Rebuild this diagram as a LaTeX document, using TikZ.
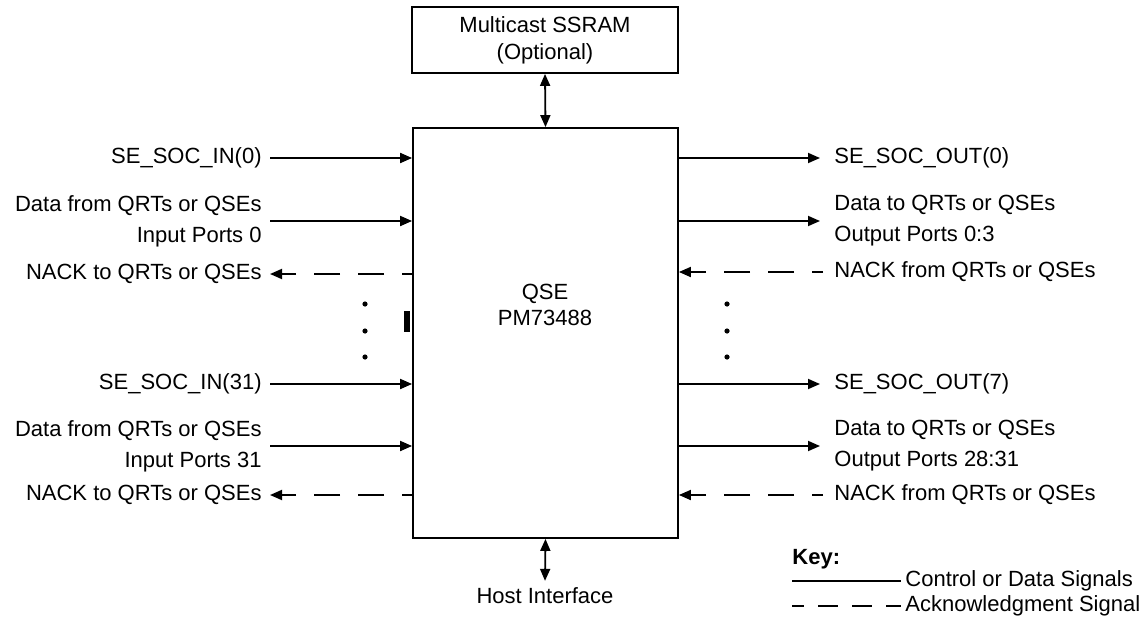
\documentclass[tikz,border=0pt]{standalone}
\usepackage{fontspec}
\setmainfont{Liberation Sans}
\usetikzlibrary{arrows.meta}
\begin{document}
\begin{tikzpicture}[x=0.5pt,y=-0.5pt,
  font=\fontsize{11}{13.5}\selectfont,
  box/.style={draw,line width=0.9pt,inner sep=0pt},
  sig/.style={line width=0.9pt,-{Triangle[length=6pt,width=5pt]}},
  ack/.style={line width=0.9pt,dash pattern=on 13pt off 9pt,-{Triangle[length=6pt,width=5pt]}},
  bidir/.style={line width=0.9pt,{Triangle[length=6pt,width=5pt]}-{Triangle[length=6pt,width=5pt]}},
  llbl/.style={anchor=east,align=right,inner sep=0pt,font=\fontsize{11}{15.5}\selectfont},
  rlbl/.style={anchor=west,align=left,inner sep=0pt,font=\fontsize{11}{15.5}\selectfont},
  dot/.style={circle,fill,inner sep=0pt,minimum size=2.6pt}]
\useasboundingbox (0,0) rectangle (1147,621);

% boxes
\node[box,minimum width=133pt,minimum height=33pt,align=center] (ssram) at (545,40) {Multicast SSRAM\\(Optional)};
\node[box,minimum width=132.5pt,minimum height=205pt] (qse) at (545.5,333) {};
\node[align=center,font=\fontsize{11}{13}\selectfont] (qsetxt) at (545,305) {QSE\\PM73488};
\node (host) at (545,596) {Host Interface};
\draw[bidir] (ssram.south) -- (qse.north);
\draw[bidir] (qse.south) -- (host.north);

% left side
\node[llbl] (in0) at (262,158) {SE\_SOC\_IN(0)};
\node[llbl] (din0) at (262,221) {Data from QRTs or QSEs\\Input Ports 0};
\node[llbl] (nl0) at (262,274) {NACK to QRTs or QSEs};
\node[llbl] (in31) at (262,384) {SE\_SOC\_IN(31)};
\node[llbl] (din31) at (262,446) {Data from QRTs or QSEs\\Input Ports 31};
\node[llbl] (nl31) at (262,495) {NACK to QRTs or QSEs};

\draw[sig] ([xshift=4pt]in0.east) -- (qse.west |- in0.east);
\draw[sig] ([xshift=4pt]din0.east) -- (qse.west |- din0.east);
\draw[ack,dash phase=8pt] (qse.west |- nl0.east) -- ([xshift=4pt]nl0.east);
\draw[sig] ([xshift=4pt]in31.east) -- (qse.west |- in31.east);
\draw[sig] ([xshift=4pt]din31.east) -- (qse.west |- din31.east);
\draw[ack,dash phase=8pt] (qse.west |- nl31.east) -- ([xshift=4pt]nl31.east);

\node[dot] (ld1) at (365,304) {};
\node[dot] (ld2) at (365,331) {};
\node[dot] (ld3) at (365,357) {};
\fill (404,311) rectangle (410,332);

% right side
\node[rlbl] (out0) at (834,158) {SE\_SOC\_OUT(0)};
\node[rlbl] (dout0) at (834,221) {Data to QRTs or QSEs\\Output Ports 0:3};
\node[rlbl] (nr0) at (834,272) {NACK from QRTs or QSEs};
\node[rlbl] (out7) at (834,384) {SE\_SOC\_OUT(7)};
\node[rlbl] (dout7) at (834,446) {Data to QRTs or QSEs\\Output Ports 28:31};
\node[rlbl] (nr7) at (834,495) {NACK from QRTs or QSEs};

\draw[sig] (qse.east |- out0.west) -- ([xshift=-7pt]out0.west);
\draw[sig] (qse.east |- dout0.west) -- ([xshift=-7pt]dout0.west);
\draw[ack,dash phase=7.5pt] ([xshift=-5.5pt]nr0.west) -- (qse.east |- nr0.west);
\draw[sig] (qse.east |- out7.west) -- ([xshift=-7pt]out7.west);
\draw[sig] (qse.east |- dout7.west) -- ([xshift=-7pt]dout7.west);
\draw[ack,dash phase=7.5pt] ([xshift=-5.5pt]nr7.west) -- (qse.east |- nr7.west);

\node[dot] (rd1) at (727,304) {};
\node[dot] (rd2) at (727,331) {};
\node[dot] (rd3) at (727,357) {};

% key
\node[anchor=west,inner sep=0pt,font=\fontsize{11}{13.5}\selectfont\bfseries] (key) at (792,559) {Key:};
\node[anchor=west,inner sep=0pt] (kc) at (905,581) {Control or Data Signals};
\node[anchor=west,inner sep=0pt] (ka) at (905,606) {Acknowledgment Signal};
\coordinate (k1) at (792,581);
\coordinate (k2) at (792,606);
\draw[line width=0.75pt] (k1) -- ([xshift=-2pt]kc.west);
\draw[line width=0.75pt,dash pattern=on 10pt off 7pt,dash phase=4pt] (k2) -- ([xshift=-2pt]ka.west);
\end{tikzpicture}
\end{document}
